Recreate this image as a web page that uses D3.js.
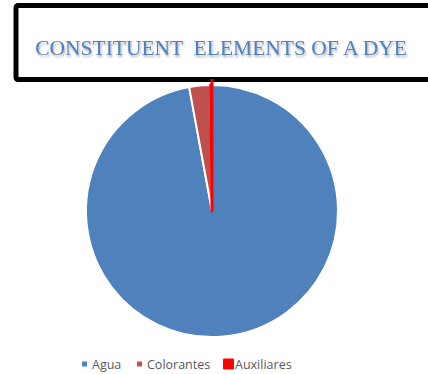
<!DOCTYPE html>
<html>
<head>
<meta charset="utf-8">
<script src="https://cdn.jsdelivr.net/npm/d3@7"></script>
<style>
  body { margin: 0; background: #fff; }
  svg { display: block; }
</style>
</head>
<body>
<script>
// chart data
var categories = ["Agua", "Colorantes", "Auxiliares"];
var values = [97.1, 2.7, 0.2];
var colors = ["#4f81bd", "#c0504d", "#ff0000"];
var titleText = "CONSTITUENT  ELEMENTS OF A DYE";

var width = 428, height = 374;
var cx = 212, cy = 211, radius = 126;

var svg = d3.select("body").append("svg")
    .attr("width", width)
    .attr("height", height);

var defs = svg.append("defs");
var f = defs.append("filter").attr("id", "tshadow")
    .attr("x", "-5%").attr("y", "-30%").attr("width", "110%").attr("height", "160%");
f.append("feGaussianBlur").attr("in", "SourceAlpha").attr("stdDeviation", 1.2).attr("result", "b");
f.append("feOffset").attr("in", "b").attr("dx", 1).attr("dy", 1.5).attr("result", "o");
f.append("feComponentTransfer").attr("in", "o").attr("result", "s")
  .append("feFuncA").attr("type", "linear").attr("slope", 0.35);
var m = f.append("feMerge");
m.append("feMergeNode").attr("in", "s");
m.append("feMergeNode").attr("in", "SourceGraphic");

//__pie__//
var pie = d3.pie().sort(null).value(function(d) { return d; });
var arc = d3.arc().innerRadius(0).outerRadius(radius);
var arcs = pie(values);

var g = svg.append("g").attr("transform", "translate(" + cx + "," + cy + ")");

g.selectAll("path.slice")
    .data(arcs)
    .enter().append("path")
    .attr("class", "slice")
    .attr("d", arc)
    .attr("fill", function(d, i) { return colors[i]; })
    .attr("stroke", function(d, i) { return i == 2 ? colors[2] : "#fff"; })
    .attr("stroke-width", function(d, i) { return i == 2 ? 2.5 : 2; })
    .attr("stroke-linejoin", "round");

// the tiny red slice sits on top, thick stroke pokes out past the rim
g.append("line")
    .attr("x1", 0).attr("y1", 0)
    .attr("x2", 0).attr("y2", -(radius + 6))
    .attr("stroke", colors[2])
    .attr("stroke-width", 2.5);

//__title box__//
svg.append("rect")
    .attr("x", 16).attr("y", 5.5)
    .attr("width", 430).attr("height", 74)
    .attr("rx", 2)
    .attr("fill", "#fff")
    .attr("stroke", "#000")
    .attr("stroke-width", 5);

// red slice border shows through the bottom edge of the box
svg.append("line")
    .attr("x1", cx).attr("x2", cx)
    .attr("y1", 79).attr("y2", 86)
    .attr("stroke", colors[2])
    .attr("stroke-width", 2.5);

svg.append("text")
    .attr("x", 221).attr("y", 55)
    .attr("text-anchor", "middle")
    .attr("font-family", "'Liberation Serif', 'Times New Roman', serif")
    .attr("font-size", 21.5)
    .attr("fill", "#4f81bd")
    .attr("filter", "url(#tshadow)")
    .attr("xml:space", "preserve")
    .style("white-space", "pre")
    .text(titleText);

//__legend__//
var legendX = [82, 137, 223];
var legend = svg.append("g");
var items = legend.selectAll("g")
    .data(categories)
    .enter().append("g")
    .attr("transform", function(d, i) { return "translate(" + legendX[i] + ",364)"; });

items.append("rect")
    .attr("x", 0)
    .attr("y", function(d, i) { return i == 2 ? -5.5 : -2.5; })
    .attr("width", function(d, i) { return i == 2 ? 11 : 5; })
    .attr("height", function(d, i) { return i == 2 ? 11 : 5; })
    .attr("rx", function(d, i) { return i == 2 ? 1 : 0; })
    .attr("fill", function(d, i) { return colors[i]; });

items.append("text")
    .attr("x", function(d, i) { return i == 2 ? 12 : 10; })
    .attr("y", 4.5)
    .attr("font-family", "'Open Sans', 'Noto Sans', sans-serif")
    .attr("font-size", 12.5)
    .attr("fill", "#595959")
    .text(function(d) { return d; });
</script>
</body>
</html>
